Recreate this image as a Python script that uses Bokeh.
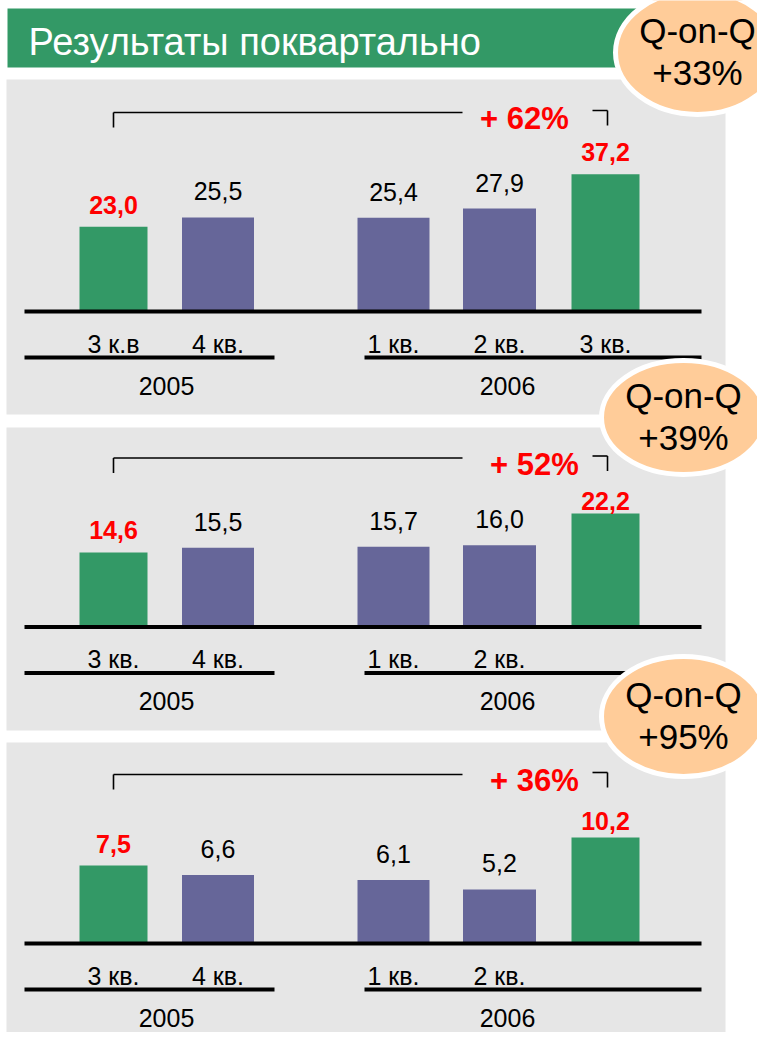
from bokeh.plotting import figure
from bokeh.models import Range1d
from bokeh.core.properties import value
from bokeh.embed import file_html
from bokeh.resources import INLINE

# ---------------- data ----------------
title = "Результаты поквартально"
years = ["2005", "2006"]
quarters_1 = ["3 к.в", "4 кв.", "1 кв.", "2 кв.", "3 кв."]
quarters_2 = ["3 кв.", "4 кв.", "1 кв.", "2 кв.", ""]
quarters_3 = ["3 кв.", "4 кв.", "1 кв.", "2 кв.", ""]
values_1 = [23.0, 25.5, 25.4, 27.9, 37.2]
values_2 = [14.6, 15.5, 15.7, 16.0, 22.2]
values_3 = [7.5, 6.6, 6.1, 5.2, 10.2]
growth = ["+ 62%", "+ 52%", "+ 36%"]
qoq_title = "Q-on-Q"
qoq = ["+33%", "+39%", "+95%"]

# ---------------- layout / style ----------------
GREEN = "#339966"
PURPLE = "#666699"
GRAY = "#E6E6E6"
PEACH = "#FFCC99"
RED = "#FF0000"
FONT = value("Liberation Sans")

W, H = 757, 1032
p = figure(width=W, height=H, x_range=Range1d(0, W), y_range=Range1d(H, 0),
           output_backend="svg", toolbar_location=None, min_border=0,
           x_axis_location=None, y_axis_location=None)
p.grid.visible = False
p.outline_line_color = None
p.background_fill_color = "white"
p.border_fill_color = "white"

bar_x = [113, 217.5, 393, 499, 605]
bar_w = [68, 72, 72, 73, 68]
bar_c = [GREEN, PURPLE, PURPLE, PURPLE, GREEN]

panels = [
    dict(top=79, bottom=414, base=311, scale=3.69, by=112, px=524, vals=values_1, q=quarters_1,
         g=growth[0], last_off=-22),
    dict(top=427, bottom=730, base=626.5, scale=5.11, by=457.5, px=534, vals=values_2, q=quarters_2,
         g=growth[1], last_off=-13),
    dict(top=742, bottom=1045, base=943, scale=10.39, by=774, px=534, vals=values_3, q=quarters_3,
         g=growth[2], last_off=-17),
]

# gray panels
p.quad(left=6, right=725, top=[d["top"] for d in panels], bottom=[d["bottom"] for d in panels],
       fill_color=GRAY, line_color=None)

# header
p.quad(left=7, right=660, top=8, bottom=67, fill_color=GREEN, line_color=None)
p.text(x=[28], y=[41], text=[title], text_font=FONT, text_font_size="38px",
       text_color="white", text_baseline="middle", text_align="left")

for i, d in enumerate(panels):
    name = f"panel{i}"
    base, s = d["base"], d["scale"]
    p.extra_y_ranges[name] = Range1d(start=(base - H) / s, end=base / s)

    # bars
    p.vbar(x=bar_x, top=d["vals"], bottom=0, width=bar_w, fill_color=bar_c,
           line_color=None, y_range_name=name)

    # value labels
    labels = [f"{v:.1f}".replace(".", ",") for v in d["vals"]]
    mid = [1, 2, 3]
    p.text(x=[bar_x[k] for k in mid], y=[d["vals"][k] for k in mid],
           text=[labels[k] for k in mid], y_range_name=name, y_offset=-26,
           text_font=FONT, text_font_size="25px", text_color="black",
           text_align="center", text_baseline="middle")
    p.text(x=[bar_x[0]], y=[d["vals"][0]], text=[labels[0]], y_range_name=name, y_offset=-22,
           text_font=FONT, text_font_size="25px", text_font_style="bold", text_color=RED,
           text_align="center", text_baseline="middle")
    p.text(x=[bar_x[4]], y=[d["vals"][4]], text=[labels[4]], y_range_name=name,
           y_offset=d["last_off"],
           text_font=FONT, text_font_size="25px", text_font_style="bold", text_color=RED,
           text_align="center", text_baseline="middle")

    # baseline
    p.segment(x0=[24], x1=[701], y0=[base], y1=[base], line_color="black", line_width=4)

    # quarter labels
    p.text(x=bar_x, y=[base + 32] * 5, text=d["q"], text_font=FONT, text_font_size="25px",
           text_color="black", text_align="center", text_baseline="middle")

    # year lines and labels
    p.segment(x0=[24, 364], x1=[274, 701], y0=[base + 46] * 2, y1=[base + 46] * 2,
              line_color="black", line_width=4)
    p.text(x=[166, 507], y=[base + 74] * 2, text=years, text_font=FONT, text_font_size="25px",
           text_color="black", text_align="center", text_baseline="middle")

    # growth bracket
    by = d["by"]
    p.segment(x0=[113, 113, 592, 607], x1=[462, 113, 607, 607],
              y0=[by, by, by - 2, by - 2], y1=[by, by + 15, by - 2, by + 13],
              line_color="black", line_width=1.6)
    p.text(x=[d["px"]], y=[by + 6], text=[d["g"]], text_font=FONT, text_font_size="31px",
           text_font_style="bold", text_color=RED, text_align="center",
           text_baseline="middle")

# Q-on-Q badges
bx = [697, 683, 683]
byy = [52, 417, 716]
p.ellipse(x=bx, y=byy, width=164, height=[124, 114, 120], fill_color=PEACH,
          line_color="white", line_width=5)
p.text(x=bx, y=[v - 22 for v in byy], text=[qoq_title] * 3, text_font=FONT,
       text_font_size="35px", text_color="black", text_align="center", text_baseline="middle")
p.text(x=bx, y=[v + 20 for v in byy], text=qoq, text_font=FONT,
       text_font_size="35px", text_color="black", text_align="center", text_baseline="middle")

open("out.html", "w").write(file_html(p, INLINE))
